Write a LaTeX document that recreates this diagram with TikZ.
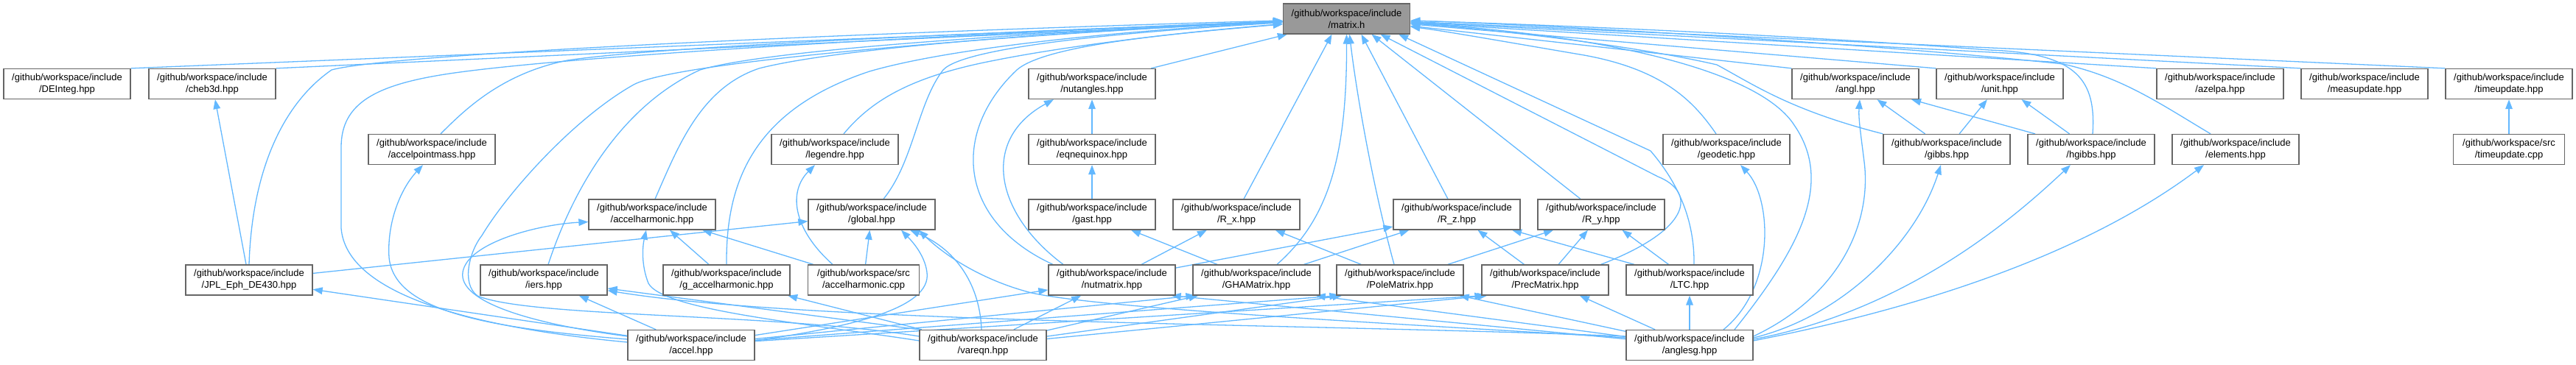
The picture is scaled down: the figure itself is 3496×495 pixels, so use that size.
\documentclass[tikz,border=0pt]{standalone}
\usepackage{fontspec}
\setmainfont{Liberation Sans}
\usetikzlibrary{arrows.meta}
\definecolor{edgeblue}{HTML}{63B8FF}
\definecolor{boxgray}{HTML}{666666}
\definecolor{rootgray}{HTML}{999999}
\pgfdeclarelayer{background}
\pgfsetlayers{background,main}
\tikzset{
  file/.style={draw=boxgray, fill=white, line width=0.65pt, align=center,
    minimum width=86pt, minimum height=20.5pt, inner sep=0pt,
    font=\fontsize{6.5}{8}\selectfont},
  srcfile/.style={file, minimum width=75.5pt},
  root/.style={file, fill=rootgray},
  incl/.style={draw=edgeblue, line width=0.65pt, -{Triangle[length=6.5pt,width=4.8pt]}}
}

\begin{document}
\begin{tikzpicture}[x=0.5pt, y=-0.5pt]
\useasboundingbox (0,0) rectangle (3496,495);
% row 0
\node[root] (matrix) at (1827.5,25.5) {/github/workspace/include\\/matrix.h};
% row 1
\node[file] (DEInteg) at (91,114) {/github/workspace/include\\/DEInteg.hpp};
\node[file] (cheb3d) at (288,114) {/github/workspace/include\\/cheb3d.hpp};
\node[file] (nutangles) at (1482,114) {/github/workspace/include\\/nutangles.hpp};
\node[file] (angl) at (2518,114) {/github/workspace/include\\/angl.hpp};
\node[file] (unit) at (2714,114) {/github/workspace/include\\/unit.hpp};
\node[file] (azelpa) at (3013,114) {/github/workspace/include\\/azelpa.hpp};
\node[file] (measupdate) at (3209,114) {/github/workspace/include\\/measupdate.hpp};
\node[file] (tuhpp) at (3405,114) {/github/workspace/include\\/timeupdate.hpp};
% row 2
\node[file] (accelpointmass) at (586,203) {/github/workspace/include\\/accelpointmass.hpp};
\node[file] (legendre) at (1133,203) {/github/workspace/include\\/legendre.hpp};
\node[file] (eqnequinox) at (1482,203) {/github/workspace/include\\/eqnequinox.hpp};
\node[file] (geodetic) at (2343,203) {/github/workspace/include\\/geodetic.hpp};
\node[file] (gibbs) at (2642,203) {/github/workspace/include\\/gibbs.hpp};
\node[file] (hgibbs) at (2838,203) {/github/workspace/include\\/hgibbs.hpp};
\node[file] (elements) at (3034,203) {/github/workspace/include\\/elements.hpp};
\node[srcfile] (tucpp) at (3405,203) {/github/workspace/src\\/timeupdate.cpp};
% row 3
\node[file] (accelharmonic) at (885,291.5) {/github/workspace/include\\/accelharmonic.hpp};
\node[file] (global) at (1183,291.5) {/github/workspace/include\\/global.hpp};
\node[file] (gast) at (1482,291.5) {/github/workspace/include\\/gast.hpp};
\node[file] (Rx) at (1678,291.5) {/github/workspace/include\\/R\_x.hpp};
\node[file] (Rz) at (1977,291.5) {/github/workspace/include\\/R\_z.hpp};
\node[file] (Ry) at (2173,291.5) {/github/workspace/include\\/R\_y.hpp};
% row 4
\node[file] (JPL) at (338,380.5) {/github/workspace/include\\/JPL\_Eph\_DE430.hpp};
\node[file] (iers) at (738,380.5) {/github/workspace/include\\/iers.hpp};
\node[file] (gaccel) at (986,380.5) {/github/workspace/include\\/g\_accelharmonic.hpp};
\node[srcfile] (acpp) at (1172,380.5) {/github/workspace/src\\/accelharmonic.cpp};
\node[file] (nutmatrix) at (1509,380.5) {/github/workspace/include\\/nutmatrix.hpp};
\node[file] (GHA) at (1705,380.5) {/github/workspace/include\\/GHAMatrix.hpp};
\node[file] (Pole) at (1900,380.5) {/github/workspace/include\\/PoleMatrix.hpp};
\node[file] (Prec) at (2097,380.5) {/github/workspace/include\\/PrecMatrix.hpp};
\node[file] (LTC) at (2293,380.5) {/github/workspace/include\\/LTC.hpp};
% row 5
\node[file] (accel) at (938,469) {/github/workspace/include\\/accel.hpp};
\node[file] (vareqn) at (1334,469) {/github/workspace/include\\/vareqn.hpp};
\node[file] (anglesg) at (2293,469) {/github/workspace/include\\/anglesg.hpp};

\begin{pgfonlayer}{background}
% into matrix.h, left side
\draw[incl] (DEInteg.north east) -- (matrix);
\draw[incl] (cheb3d.north east) -- (matrix);
\draw[incl] (JPL.north) .. controls (342,230) and (385,140) .. (450,95) .. controls (540,70) and (1300,40) .. (matrix);
\draw[incl] ([yshift=2pt]accel.west) .. controls (640,445) and (470,400) .. (463,310) -- (463,200) .. controls (463,140) and (510,115) .. (610,100) .. controls (800,72) and (1400,42) .. (matrix);
\draw[incl] ([yshift=6pt]vareqn.west) .. controls (1050,425) and (720,432) .. (648,402) .. controls (625,385) and (638,340) .. (654,320) .. controls (690,260) and (780,160) .. (860,115) .. controls (920,82) and (1400,45) .. (matrix);
\draw[incl] ([xshift=6pt]accelpointmass.north) .. controls (630,150) and (680,100) .. (770,82) .. controls (900,62) and (1400,42) .. (matrix);
\draw[incl] ([xshift=3pt]iers.north) .. controls (770,280) and (830,150) .. (950,95) .. controls (1050,65) and (1450,42) .. (matrix);
\draw[incl] ([xshift=2pt]accelharmonic.north) .. controls (920,200) and (950,120) .. (1030,93) .. controls (1150,62) and (1500,40) .. (matrix);
\draw[incl] (gaccel.north) .. controls (985,250) and (1020,150) .. (1180,97) .. controls (1300,62) and (1550,40) .. (matrix);
\draw[incl] ([xshift=6pt]legendre.north) .. controls (1180,140) and (1230,105) .. (1350,82) .. controls (1450,62) and (1600,44) .. (matrix);
\draw[incl] ([xshift=8pt]global.north) .. controls (1240,220) and (1245,140) .. (1280,95) .. controls (1310,62) and (1550,42) .. (matrix);
\draw[incl] ([xshift=-40pt]nutmatrix.north) .. controls (1300,300) and (1290,180) .. (1380,95) .. controls (1420,60) and (1600,45) .. (matrix);
\draw[incl] ([xshift=40pt]nutangles.north) -- ([xshift=3pt]matrix.south west);
% into matrix.h, from below
\draw[incl] ([xshift=5pt]Rx.north) -- ([xshift=-10pt]matrix.south);
\draw[incl] ([xshift=14pt]GHA.north) .. controls (1800,300) and (1828,220) .. (matrix.south);
\draw[incl] ([xshift=-4pt]Pole.north) .. controls (1862,250) and (1840,120) .. ([xshift=2pt]matrix.south);
\draw[incl] ([xshift=-6pt]Rz.north) -- ([xshift=10pt]matrix.south);
\draw[incl] ([xshift=-14pt]Ry.north) -- ([xshift=17pt]matrix.south);
\draw[incl] ([xshift=-5.5pt]Prec.north east) .. controls (2300,310) and (2300,260) .. (2250,240) -- ([xshift=23pt]matrix.south);
\draw[incl] ([xshift=3pt]LTC.north) .. controls (2300,290) and (2270,240) .. (2240,205) -- ([xshift=-8pt]matrix.south east);
% into matrix.h, right side
\draw[incl] ([xshift=-7pt]geodetic.north) .. controls (2300,140) and (2260,95) .. (2150,75) .. controls (2050,58) and (1960,42) .. (matrix);
\draw[incl] ([xshift=30.5pt]anglesg.north) .. controls (2440,340) and (2490,250) .. (2435,170) .. controls (2390,100) and (2200,50) .. (matrix);
\draw[incl] (angl.north west) -- (matrix);
\draw[incl] (gibbs.north west) .. controls (2430,150) and (2380,115) .. (2330,88) .. controls (2200,58) and (2000,38) .. (matrix);
\draw[incl] (unit.north west) -- (matrix);
\draw[incl] ([xshift=1pt]hgibbs.north) .. controls (2845,110) and (2820,72) .. (2700,68) .. controls (2400,45) and (2050,32) .. (matrix);
\draw[incl] ([xshift=-17pt]elements.north) .. controls (2930,140) and (2880,105) .. (2800,87) .. controls (2500,55) and (2050,32) .. (matrix);
\draw[incl] (azelpa.north west) -- (matrix);
\draw[incl] (measupdate.north west) -- (matrix);
\draw[incl] (tuhpp.north west) -- (matrix);
% middle rows
\draw[incl] (tucpp) -- (tuhpp);
\draw[incl] (eqnequinox) -- (nutangles);
\draw[incl] (gast) -- (eqnequinox);
\draw[incl] (JPL) -- (cheb3d);
\draw[incl] (JPL) -- (global);
\draw[incl] (acpp) -- (global);
\draw[incl] (acpp) -- (accelharmonic);
\draw[incl] (gaccel) -- (accelharmonic);
\draw[incl] ([xshift=-21pt]acpp.north) .. controls (1075,310) and (1070,260) .. ([xshift=-13.5pt]legendre.south);
\draw[incl] ([xshift=-33pt]nutmatrix.north) .. controls (1350,290) and (1330,190) .. ([xshift=-26pt]nutangles.south);
\draw[incl] (nutmatrix) -- (Rx);
\draw[incl] (nutmatrix) -- (Rz);
\draw[incl] (GHA) -- (gast);
\draw[incl] (GHA) -- (Rz);
\draw[incl] (Pole) -- (Rx);
\draw[incl] (Pole) -- (Ry);
\draw[incl] (Prec) -- (Rz);
\draw[incl] (Prec) -- (Ry);
\draw[incl] (LTC) -- (Rz);
\draw[incl] (LTC) -- (Ry);
\draw[incl] (gibbs) -- (angl);
\draw[incl] (gibbs) -- (unit);
\draw[incl] (hgibbs) -- (angl);
\draw[incl] (hgibbs) -- (unit);
% accel.hpp
\draw[incl] (accel) -- (JPL);
\draw[incl] (accel) -- (iers);
\draw[incl] ([yshift=4pt]accel.west) .. controls (650,445) and (535,420) .. (528,350) .. controls (525,300) and (545,255) .. ([xshift=-6pt]accelpointmass.south);
\draw[incl] ([yshift=6pt]accel.west) .. controls (720,440) and (622,410) .. (628,370) .. controls (634,330) and (730,305) .. ([yshift=-5pt]accelharmonic.west);
\draw[incl] ([yshift=3pt]accel.east) .. controls (1150,445) and (1265,420) .. (1258,370) .. controls (1255,345) and (1235,325) .. ([xshift=20pt]global.south);
\draw[incl] (accel) -- (nutmatrix);
\draw[incl] (accel) -- ([xshift=2pt]GHA.south west);
\draw[incl] (accel) -- ([xshift=2pt]Pole.south west);
\draw[incl] (accel) -- ([xshift=2pt]Prec.south west);
% vareqn.hpp
\draw[incl] (vareqn.north west) -- (iers);
\draw[incl] (vareqn) -- (gaccel);
\draw[incl] ([yshift=3pt]vareqn.west) .. controls (1100,440) and (900,422) .. (880,385) .. controls (870,360) and (872,335) .. ([xshift=-4pt]accelharmonic.south);
\draw[incl] ([xshift=-1pt]vareqn.north) .. controls (1330,390) and (1300,340) .. ([xshift=26pt]global.south);
\draw[incl] (vareqn) -- (nutmatrix);
\draw[incl] (vareqn) -- ([xshift=4pt]GHA.south west);
\draw[incl] (vareqn) -- ([xshift=4pt]Pole.south west);
\draw[incl] (vareqn) -- ([xshift=4pt]Prec.south west);
% anglesg.hpp
\draw[incl] ([yshift=6pt]anglesg.west) .. controls (1800,440) and (1100,440) .. (iers);
\draw[incl] ([yshift=5pt]anglesg.west) .. controls (1900,440) and (1500,420) .. (1400,398) .. controls (1330,380) and (1280,345) .. ([xshift=32pt]global.south);
\draw[incl] (anglesg) -- ([xshift=-3pt]nutmatrix.south east);
\draw[incl] (anglesg) -- ([xshift=-3pt]GHA.south east);
\draw[incl] (anglesg) -- ([xshift=-3pt]Pole.south east);
\draw[incl] (anglesg) -- (Prec);
\draw[incl] (anglesg) -- (LTC);
\draw[incl] ([xshift=23pt]anglesg.north) .. controls (2410,390) and (2405,270) .. ([xshift=9.5pt]geodetic.south);
\draw[incl] ([yshift=6pt]anglesg.east) .. controls (2500,400) and (2540,300) .. (2530,220) .. controls (2525,180) and (2522,160) .. ([xshift=3pt]angl.south);
\draw[incl] ([yshift=5pt]anglesg.east) .. controls (2500,430) and (2600,330) .. ([xshift=-4pt]gibbs.south);
\draw[incl] ([yshift=4pt]anglesg.east) .. controls (2600,420) and (2750,280) .. ([xshift=-14pt]hgibbs.south);
\draw[incl] ([yshift=3pt]anglesg.east) .. controls (2650,410) and (2850,330) .. ([xshift=-21.5pt]elements.south);
\end{pgfonlayer}
\end{tikzpicture}
\end{document}
